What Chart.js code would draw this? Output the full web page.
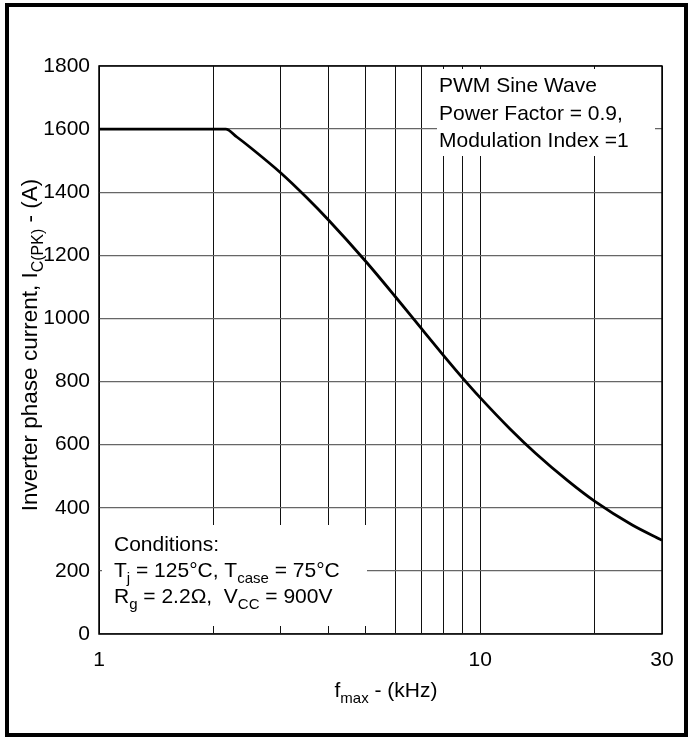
<!DOCTYPE html>
<html>
<head>
<meta charset="utf-8">
<script src="https://cdn.jsdelivr.net/npm/chart.js@4.4.1/dist/chart.umd.min.js"></script>
<style>
  html, body { margin: 0; padding: 0; background: #fff; }
  canvas { display: block; }
</style>
</head>
<body>
<canvas id="curve" width="689" height="738"></canvas>
<script>
// values
const freqKHz = [1, 2.15, 2.3, 2.5, 3, 3.5, 4, 5, 6, 7, 8, 9, 10, 12, 14, 17, 20, 25, 30];
const currentA = [1600, 1600, 1575, 1541, 1461, 1384, 1312, 1182, 1068, 969, 884, 811, 749, 649, 572, 485, 420, 346, 297];

const xGridTicks = [1, 2, 3, 4, 5, 6, 7, 8, 9, 10, 20, 30];
const xTickLabels = [1, 10, 30];
const yTicks = [0, 200, 400, 600, 800, 1000, 1200, 1400, 1600, 1800];

const FONT = '"Liberation Sans", Arial, sans-serif';
const FS = 21;

// text with subscripts, drawn on the canvas
function drawRich(ctx, parts, x, y, align, size) {
  const fs = size || FS;
  const subFs = Math.round(fs * 0.72);
  let w = 0;
  parts.forEach(p => {
    ctx.font = (p.sub ? subFs : fs) + 'px ' + FONT;
    p.w = ctx.measureText(p.t).width;
    w += p.w;
  });
  let cx = align === 'center' ? x - w / 2 : x;
  ctx.textAlign = 'left';
  ctx.textBaseline = 'alphabetic';
  parts.forEach(p => {
    ctx.font = (p.sub ? subFs : fs) + 'px ' + FONT;
    ctx.fillText(p.t, cx, p.sub ? y + fs * 0.28 : y);
    cx += p.w;
  });
}

const boxPWM = { x: 437, y: 69, w: 218, h: 87 };
const boxCond = { x: 102, y: 525, w: 265, h: 101 };

const decorPlugin = {
  id: 'decor',
  beforeDatasetsDraw(chart) {
    const ctx = chart.ctx;
    ctx.save();
    ctx.fillStyle = '#fff';
    [boxPWM, boxCond].forEach(b => ctx.fillRect(b.x, b.y, b.w, b.h));
    ctx.restore();
  },
  afterDraw(chart) {
    const ctx = chart.ctx;
    const a = chart.chartArea;
    ctx.save();
    ctx.strokeStyle = '#000';
    ctx.lineWidth = 1.5;
    ctx.strokeRect(a.left, a.top, a.right - a.left, a.bottom - a.top);

    ctx.lineWidth = 4;
    ctx.strokeRect(7, 5, 679, 730);

    ctx.fillStyle = '#000';
    drawRich(ctx, [{ t: 'PWM Sine Wave' }], 439, 92, 'left');
    drawRich(ctx, [{ t: 'Power Factor = 0.9,' }], 439, 120, 'left');
    drawRich(ctx, [{ t: 'Modulation Index =1' }], 439, 147, 'left');

    drawRich(ctx, [{ t: 'Conditions:' }], 114, 551, 'left');
    drawRich(ctx, [{ t: 'T' }, { t: 'j', sub: true }, { t: ' = 125°C, T' },
      { t: 'case', sub: true }, { t: ' = 75°C' }], 114, 577, 'left');
    drawRich(ctx, [{ t: 'R' }, { t: 'g', sub: true }, { t: ' = 2.2Ω,  V' },
      { t: 'CC', sub: true }, { t: ' = 900V' }], 114, 603, 'left');

    drawRich(ctx, [{ t: 'f' }, { t: 'max', sub: true }, { t: ' - (kHz)' }], 386, 697, 'center');

    ctx.translate(37, 345);
    ctx.rotate(-Math.PI / 2);
    drawRich(ctx, [{ t: 'Inverter phase current, I' }, { t: 'C(PK)', sub: true },
      { t: ' - (A)' }], 0, 0, 'center', 22.5);
    ctx.restore();
  }
};

const points = freqKHz.map((f, i) => ({ x: f, y: currentA[i] }));

const curveConfig = {
  type: 'line',
  data: {
    datasets: [
      {
        data: points,
        borderColor: '#000',
        borderWidth: 2.8,
        pointRadius: 0,
        fill: false,
        cubicInterpolationMode: 'monotone',
      },
    ],
  },
  options: {
    responsive: false,
    animation: false,
    layout: { padding: { top: 66, right: 27, left: 0, bottom: 0 } },
    plugins: {
      legend: { display: false },
      tooltip: { enabled: false },
    },
    scales: {
      x: {
        type: 'logarithmic',
        min: 1,
        max: 30,
        afterBuildTicks: s => { s.ticks = xGridTicks.map(v => ({ value: v })); },
        afterFit: s => { s.height = 104; },
        grid: { color: '#111', lineWidth: 1, drawTicks: false },
        border: { display: false },
        ticks: {
          autoSkip: false,
          maxRotation: 0,
          padding: 14,
          color: '#000',
          font: { family: FONT, size: FS },
          callback: v => (xTickLabels.includes(v) ? String(v) : ''),
        },
      },
      y: {
        min: 0,
        max: 1800,
        afterBuildTicks: s => { s.ticks = yTicks.map(v => ({ value: v })); },
        afterFit: s => { s.width = 99; },
        grid: { color: '#666', lineWidth: 1.3, drawTicks: false },
        border: { display: false },
        ticks: {
          padding: 9,
          color: '#000',
          font: { family: FONT, size: FS },
          callback: v => String(v),
        },
      },
    },
  },
  plugins: [decorPlugin],
};

window.curveChart = new Chart(document.getElementById('curve'), curveConfig);
</script>
</body>
</html>
